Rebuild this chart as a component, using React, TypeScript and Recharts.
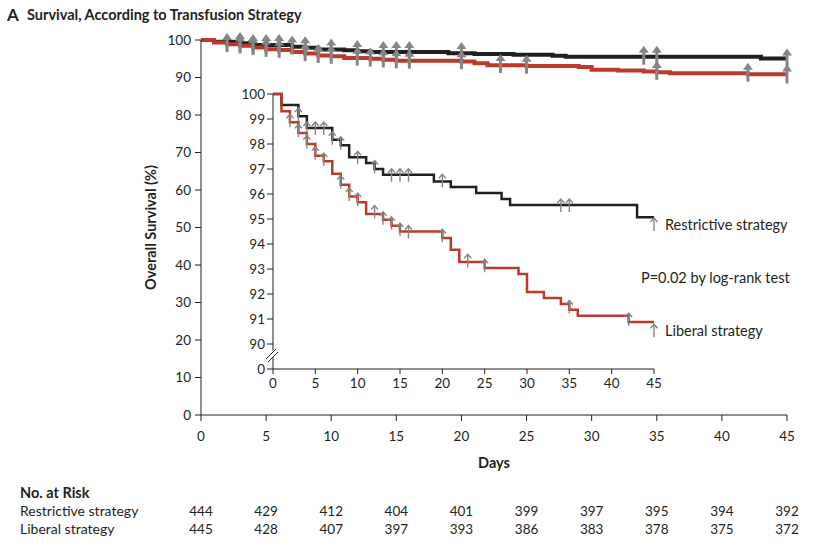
import React from 'react';
import { LineChart, Line, XAxis, YAxis } from 'recharts';

// Kaplan-Meier steps (day, survival %)
const restrictiveSteps = [
  { day: 0, s: 100 }, { day: 1, s: 99.56 }, { day: 3, s: 99.11 }, { day: 4, s: 98.64 },
  { day: 7, s: 98.17 }, { day: 8, s: 97.95 }, { day: 9, s: 97.47 }, { day: 11, s: 97.24 },
  { day: 12, s: 97.0 }, { day: 13, s: 96.77 }, { day: 19, s: 96.5 }, { day: 21, s: 96.28 },
  { day: 24, s: 96.04 }, { day: 27, s: 95.8 }, { day: 28, s: 95.56 }, { day: 43, s: 95.07 },
  { day: 45, s: 95.07 },
];

const liberalSteps = [
  { day: 0, s: 100 }, { day: 1, s: 99.31 }, { day: 2, s: 98.87 }, { day: 3, s: 98.44 },
  { day: 4, s: 98.0 }, { day: 5, s: 97.53 }, { day: 6, s: 97.31 }, { day: 7, s: 96.81 },
  { day: 8, s: 96.37 }, { day: 9, s: 95.9 }, { day: 10, s: 95.67 }, { day: 11, s: 95.2 },
  { day: 13, s: 94.97 }, { day: 14, s: 94.73 }, { day: 15, s: 94.5 }, { day: 20, s: 94.24 },
  { day: 21, s: 93.77 }, { day: 22, s: 93.28 }, { day: 25, s: 93.04 }, { day: 29, s: 92.8 },
  { day: 30, s: 92.08 }, { day: 32, s: 91.84 }, { day: 34, s: 91.6 }, { day: 35, s: 91.37 },
  { day: 36, s: 91.13 }, { day: 42, s: 90.88 }, { day: 45, s: 90.88 },
];

// censored observations
const restrictiveCensored = [
  { day: 3, v: 99.2 }, { day: 4, v: 98.64 }, { day: 5, v: 98.64 }, { day: 6, v: 98.64 },
  { day: 7, v: 98.25 }, { day: 8, v: 98.05 }, { day: 10, v: 97.47 }, { day: 12, v: 97.1 },
  { day: 14, v: 96.77 }, { day: 15, v: 96.77 }, { day: 16, v: 96.77 }, { day: 20, v: 96.55 },
  { day: 34, v: 95.56 }, { day: 35, v: 95.56 }, { day: 45, v: 94.8 },
];

const liberalCensored = [
  { day: 2, v: 98.95 }, { day: 3, v: 98.55 }, { day: 4, v: 98.1 }, { day: 5, v: 97.65 },
  { day: 6, v: 97.4 }, { day: 8, v: 96.5 }, { day: 9, v: 96.0 }, { day: 10, v: 95.8 },
  { day: 12, v: 95.3 }, { day: 13, v: 95.05 }, { day: 14, v: 94.85 }, { day: 15, v: 94.6 },
  { day: 16, v: 94.5 }, { day: 20, v: 94.35 }, { day: 23, v: 93.35 }, { day: 25, v: 93.15 },
  { day: 35, v: 91.5 }, { day: 42, v: 91.0 }, { day: 45, v: 90.55 },
];

const dayTicks = [0, 5, 10, 15, 20, 25, 30, 35, 40, 45];
const mainYTicks = [0, 10, 20, 30, 40, 50, 60, 70, 80, 90, 100];
const insetYTicks = [89, 90, 91, 92, 93, 94, 95, 96, 97, 98, 99, 100];

const riskRestrictive = [444, 429, 412, 404, 401, 399, 397, 395, 394, 392];
const riskLiberal = [445, 428, 407, 397, 393, 386, 383, 378, 375, 372];

const INK = '#231f20';
const RED = '#bb3a2c';
const GRAY = '#858585';
const FONT = 'Lato, "Open Sans", sans-serif';

const BigArrow = (props: any) => {
  const { cx, cy, index } = props;
  if (cx == null || cy == null) return null;
  return (
    <g key={`ba-${index}`}>
      <rect x={cx - 1.5} y={cy - 5} width={3} height={13} fill={GRAY} />
      <polygon points={`${cx},${cy - 11} ${cx - 5},${cy - 4} ${cx + 5},${cy - 4}`} fill={GRAY} />
    </g>
  );
};

const SmallArrow = (props: any) => {
  const { cx, cy, index } = props;
  if (cx == null || cy == null) return null;
  return (
    <g key={`sa-${index}`} stroke={GRAY} strokeWidth={1.4} fill="none">
      <line x1={cx} y1={cy - 6} x2={cx} y2={cy + 7} />
      <polyline points={`${cx - 3.5},${cy - 2} ${cx},${cy - 6} ${cx + 3.5},${cy - 2}`} />
    </g>
  );
};

const MainXTick = ({ x, y, payload }: any) => {
  const i = dayTicks.indexOf(payload.value);
  return (
    <g fontFamily={FONT} fontSize={13.5} fill={INK}>
      <text x={x} y={y} dy="0.71em" textAnchor="middle">{payload.value}</text>
      <text x={x} y={516} textAnchor="middle">{riskRestrictive[i]}</text>
      <text x={x} y={534} textAnchor="middle">{riskLiberal[i]}</text>
    </g>
  );
};

const abs = (left: number, top: number, extra: React.CSSProperties = {}): React.CSSProperties => ({
  position: 'absolute', left, top, whiteSpace: 'nowrap', lineHeight: '18px', color: INK, ...extra,
});

export default function App() {
  const tickStyle = { fill: INK, fontSize: 13.5, fontFamily: FONT };
  return (
    <div style={{ position: 'relative', width: 827, height: 547, fontFamily: FONT, background: '#fff' }}>
      <style>{'body{margin:0}'}</style>

      <LineChart width={827} height={547} margin={{ top: 40, right: 40, bottom: 102, left: 151 }}>
        <XAxis
          type="number" dataKey="day" domain={[0, 45]} ticks={dayTicks} interval={0}
          height={30} tickSize={6} tickMargin={10}
          stroke={INK} tickLine={{ stroke: INK }} tick={<MainXTick />}
        />
        <YAxis
          type="number" domain={[0, 100]} ticks={mainYTicks} interval={0}
          width={50} tickSize={6} tickMargin={4}
          stroke={INK} tick={tickStyle}
          label={{ value: 'Overall Survival (%)', angle: -90, position: 'left', offset: 0,
            style: { fontWeight: 700, fontSize: 14.5, fill: INK, fontFamily: FONT, textAnchor: 'middle' } }}
        />
        <Line data={restrictiveSteps} dataKey="s" type="stepAfter" stroke={INK} strokeWidth={4}
          dot={false} activeDot={false} isAnimationActive={false} />
        <Line data={liberalSteps} dataKey="s" type="stepAfter" stroke={RED} strokeWidth={4}
          dot={false} activeDot={false} isAnimationActive={false} />
        <Line data={liberalCensored} dataKey="v" stroke="none" dot={(p: any) => <BigArrow key={`l${p.index}`} {...p} />}
          activeDot={false} isAnimationActive={false} />
        <Line data={restrictiveCensored} dataKey="v" stroke="none" dot={(p: any) => <BigArrow key={`r${p.index}`} {...p} />}
          activeDot={false} isAnimationActive={false} />
      </LineChart>

      {/* inset */}
      <div style={{ position: 'absolute', left: 220, top: 80 }}>
        <LineChart width={460} height={330} margin={{ top: 14, right: 26, bottom: 11, left: 23 }}>
          <XAxis
            type="number" dataKey="day" domain={[0, 45]} ticks={dayTicks} interval={0}
            height={30} tickSize={5} tickMargin={4} stroke={INK} tick={tickStyle}
          />
          <YAxis
            type="number" domain={[89, 100]} ticks={insetYTicks} interval={0}
            width={30} tickSize={6} tickMargin={2} stroke={INK} tick={tickStyle}
            tickFormatter={(v: number) => (v === 89 ? '0' : String(v))}
          />
          <Line data={restrictiveSteps} dataKey="s" type="stepAfter" stroke={INK} strokeWidth={2.5}
            dot={false} activeDot={false} isAnimationActive={false} />
          <Line data={liberalSteps} dataKey="s" type="stepAfter" stroke={RED} strokeWidth={2.5}
            dot={false} activeDot={false} isAnimationActive={false} />
          <Line data={restrictiveCensored} dataKey="v" stroke="none" dot={(p: any) => <SmallArrow key={`r${p.index}`} {...p} />}
            activeDot={false} isAnimationActive={false} />
          <Line data={liberalCensored} dataKey="v" stroke="none" dot={(p: any) => <SmallArrow key={`l${p.index}`} {...p} />}
            activeDot={false} isAnimationActive={false} />
        </LineChart>
      </div>

      {/* axis break marks on inset y axis */}
      <svg style={{ position: 'absolute', left: 262, top: 345 }} width={22} height={22}>
        <line x1={5} y1={15} x2={15} y2={5} stroke="#fff" strokeWidth={5} />
        <line x1={4} y1={14} x2={14} y2={4} stroke={INK} strokeWidth={1} />
        <line x1={6} y1={17} x2={16} y2={7} stroke={INK} strokeWidth={1} />
      </svg>

      <div style={abs(7, 6, { fontWeight: 700, fontSize: 17 })}>A</div>
      <div style={abs(27, 6, { fontWeight: 700, fontSize: 14.5 })}>Survival, According to Transfusion Strategy</div>

      <div style={abs(665, 216, { fontSize: 14.5 })}>Restrictive strategy</div>
      <div style={abs(641, 269, { fontSize: 14.5 })}>P=0.02 by log-rank test</div>
      <div style={abs(665, 322, { fontSize: 14.5 })}>Liberal strategy</div>

      <div style={abs(494, 454, { fontWeight: 700, fontSize: 14.5, transform: 'translateX(-50%)' })}>Days</div>
      <div style={abs(20, 484, { fontWeight: 700, fontSize: 14.5 })}>No. at Risk</div>
      <div style={abs(20, 502, { fontSize: 14 })}>Restrictive strategy</div>
      <div style={abs(20, 520, { fontSize: 14 })}>Liberal strategy</div>
    </div>
  );
}
